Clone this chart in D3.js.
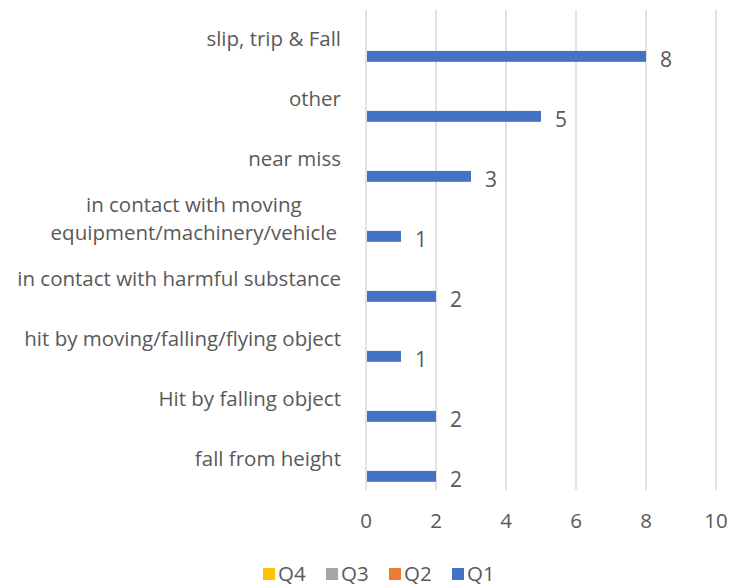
<!DOCTYPE html>
<meta charset="utf-8">
<style>
    body { margin: 0; background: #fff; }
    text { font-family: "Open Sans", sans-serif; fill: #595959; }
    .grid line { stroke: #d9d9d9; stroke-width: 1.5px; }
</style>
<svg width="745" height="588"></svg>
<script src="https://d3js.org/d3.v7.min.js"></script>
<script>

    // categories, top to bottom
    var categories = [
        "slip, trip & Fall",
        "other",
        "near miss",
        "in contact with moving\nequipment/machinery/vehicle",
        "in contact with harmful substance",
        "hit by moving/falling/flying object",
        "Hit by falling object",
        "fall from height"
    ];

    var seriesNames = ["Q4", "Q3", "Q2", "Q1"];
    var seriesColors = ["#FFC000", "#A5A5A5", "#ED7D31", "#4472C4"];

    var q1 = [8, 5, 3, 1, 2, 1, 2, 2];
    var q2 = [null, null, null, null, null, null, null, null];
    var q3 = [null, null, null, null, null, null, null, null];
    var q4 = [null, null, null, null, null, null, null, null];

    var xTicks = [0, 2, 4, 6, 8, 10];

    var seriesValues = { Q1: q1, Q2: q2, Q3: q3, Q4: q4 };

    var svg = d3.select("svg");

    var x = d3.scaleLinear().domain([0, 10]).range([366, 716]);
    var y = d3.scaleBand().domain(categories).range([10, 490]);
    var ySub = d3.scaleBand().domain(seriesNames).range([0, y.bandwidth()])
            .paddingInner(0).paddingOuter(0.75);
    var color = d3.scaleOrdinal().domain(seriesNames).range(seriesColors);

    // gridlines
    svg.append("g")
            .attr("class", "grid")
            .selectAll("line")
            .data(xTicks)
            .enter().append("line")
            .attr("x1", function(d) { return x(d); })
            .attr("x2", function(d) { return x(d); })
            .attr("y1", 10)
            .attr("y2", 490);

    // tick labels
    svg.append("g")
            .selectAll("text")
            .data(xTicks)
            .enter().append("text")
            .attr("x", function(d) { return x(d); })
            .attr("y", 528)
            .attr("text-anchor", "middle")
            .style("font-size", "20.5px")
            .text(function(d) { return d; });

    // bars + value labels
    var rows = [];
    seriesNames.forEach(function(s) {
        seriesValues[s].forEach(function(v, i) {
            if (v != null) rows.push({ cat: categories[i], series: s, value: v });
        });
    });

    svg.append("g")
            .selectAll("rect")
            .data(rows)
            .enter().append("rect")
            .attr("x", x(0) + 1)
            .attr("y", function(d) { return y(d.cat) + ySub(d.series); })
            .attr("width", function(d) { return x(d.value) - x(0) - 1; })
            .attr("height", ySub.bandwidth())
            .attr("fill", function(d) { return color(d.series); });

    svg.append("g")
            .selectAll("text")
            .data(rows)
            .enter().append("text")
            .attr("x", function(d) { return x(d.value) + 14; })
            .attr("y", function(d) { return y(d.cat) + ySub(d.series) + ySub.bandwidth() / 2 + 10.5; })
            .style("font-size", "21px")
            .text(function(d) { return d.value; });

    // category labels
    var catG = svg.append("g");
    categories.forEach(function(c) {
        var lines = c.split("\n");
        var cy = y(c) + y.bandwidth() / 2;
        var lineH = 28;
        var right = lines.length > 1 ? 337 : 341;
        var t = catG.append("text")
                .style("font-size", "20.5px")
                .attr("text-anchor", "middle");
        lines.forEach(function(l, i) {
            t.append("tspan")
                    .attr("y", cy + 6 + (i - (lines.length - 1) / 2) * lineH)
                    .text(l);
        });
        var w = 0;
        t.selectAll("tspan").each(function() { w = Math.max(w, this.getComputedTextLength()); });
        t.selectAll("tspan").attr("x", right - w / 2);
    });

    // legend
    var legend = svg.append("g");
    seriesNames.forEach(function(s, i) {
        var lx = 263 + i * 63;
        legend.append("rect")
                .attr("x", lx)
                .attr("y", 568)
                .attr("width", 12)
                .attr("height", 12)
                .attr("fill", color(s));
        legend.append("text")
                .attr("x", lx + 15)
                .attr("y", 581)
                .style("font-size", "20.5px")
                .text(s);
    });

</script>
